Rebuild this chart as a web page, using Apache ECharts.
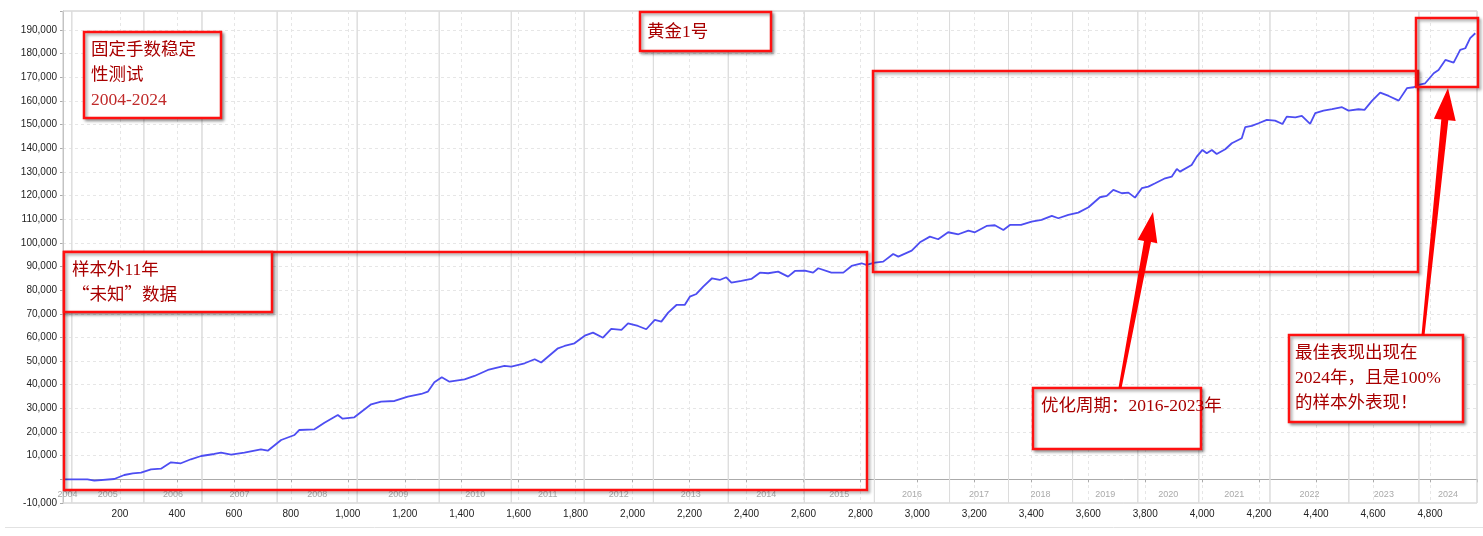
<!DOCTYPE html>
<html><head><meta charset="utf-8">
<script src="https://cdn.jsdelivr.net/npm/echarts@6/dist/echarts.min.js"></script>
<style>html,body{margin:0;padding:0;background:#fff}#c{width:1483px;height:536px}</style>
</head><body><div id="c"></div>
<script>
// bar index (x) and equity value (y)
const bars = [2,86,110,180,215,245,274,309,344,379,414,449,485,531,555,590,637,695,719,766,813,830,883,918,965,982,1023,1082,1117,1164,1211,1258,1281,1304,1330,1357,1410,1445,1492,1550,1574,1621,1656,1679,1738,1761,1796,1832,1861,1896,1925,1961,1984,2019,2048,2078,2101,2125,2154,2183,2201,2224,2248,2279,2306,2329,2347,2382,2417,2447,2476,2511,2546,2570,2605,2634,2652,2698,2740,2769,2804,2821,2851,2880,2915,2933,2980,3009,3044,3073,3108,3144,3179,3202,3243,3272,3302,3325,3364,3401,3436,3472,3495,3530,3565,3601,3641,3665,3688,3718,3741,3764,3788,3811,3835,3870,3893,3911,3922,3963,3981,4001,4016,4034,4051,4081,4104,4139,4151,4174,4198,4227,4256,4282,4297,4327,4350,4379,4397,4426,4456,4491,4514,4549,4570,4596,4625,4655,4690,4719,4743,4760,4783,4813,4830,4854,4883,4906,4924,4941,4959];
const equity = [0,0,-570,150,1840,2560,2810,4250,4500,7200,6790,8480,9870,10720,11270,10420,11270,12700,12110,16640,18750,20870,21160,23950,27210,25650,26240,31730,32830,33130,34950,36090,37060,41040,43150,41290,42300,43700,46240,47930,47650,49070,50760,49400,55410,56380,57530,60740,62010,59890,63570,63150,65980,64840,63450,67380,66670,70470,73720,73720,77230,78370,81460,85010,84290,85430,83150,83870,84710,87380,87130,87800,85690,88100,88230,87380,89240,87380,87380,90210,91350,90630,91610,92030,95290,94150,96680,100230,102600,101500,104460,103610,105140,104460,107120,107420,105430,107550,107550,108940,109660,111350,110380,111780,112750,115030,119260,119810,122350,120950,121230,119110,123070,123740,125180,127290,127970,131230,130090,132920,136430,139260,137850,139260,137570,139560,142090,144210,148860,149410,150550,151950,151660,150250,153340,153060,153640,150250,154780,155880,156470,157320,155880,156470,156170,159980,163490,162090,160110,165350,165770,166740,167450,171690,173090,177320,176190,181540,182250,186490,188600];
const yearLabels = ['2004','2005','2006','2007','2008','2009','2010','2011','2012','2013','2014','2015','2016','2017','2018','2019','2020','2021','2022','2023','2024'];
const yearBounds = [0,31,284,488,752,1033,1321,1574,1830,2073,2336,2603,2849,3113,3320,3545,3774,3988,4238,4515,4761,4965];

const chart = echarts.init(document.getElementById('c'), null, {renderer: 'canvas'});
const seriesData = bars.map((b, i) => [b, equity[i]]);
const areas = yearLabels.map((y, i) => [{xAxis: yearBounds[i], name: y}, {xAxis: yearBounds[i + 1]}]);

const RED = '#ff1010';
const TXT = '#a80000';
const CJK = '"Liberation Serif","Noto Sans CJK SC"';
function frame(x, y, w, h, fill) {
  return {type: 'rect', z: 100, shape: {x: x, y: y, width: w, height: h},
    style: {fill: fill || 'none', stroke: RED, lineWidth: 2.5,
      shadowBlur: 3, shadowColor: 'rgba(0,0,0,0.35)', shadowOffsetX: 2, shadowOffsetY: 2}};
}
function txt(x, y, s, color, fam) {
  return {type: 'text', z: 110, x: x, y: y,
    style: {text: s, fill: color || TXT, font: '17.5px ' + (fam || CJK), verticalAlign: 'middle', align: 'left'}};
}
function poly(pts) {
  return {type: 'polygon', z: 105, shape: {points: pts}, style: {fill: '#ff0000'}};
}
const fmt = (step) => (v) => (v === 0 || v % step !== 0) ? '' : v.toLocaleString('en-US');

chart.setOption({
  animation: false,
  backgroundColor: '#fff',
  grid: {left: 63, right: 6, top: 11, bottom: 33, show: true, borderColor: '#cfcfcf', borderWidth: 1, backgroundColor: '#fff'},
  xAxis: {
    type: 'value', min: 0, max: 4965, interval: 200,
    axisLine: {show: true, lineStyle: {color: '#aaa'}},
    axisTick: {show: true, length: 3, lineStyle: {color: '#aaa'}},
    axisLabel: {formatter: fmt(200), color: '#222', fontSize: 10, fontFamily: 'Liberation Sans', margin: 6},
    splitLine: {show: true, lineStyle: {color: '#e6e6e6', type: [3, 3]}}
  },
  yAxis: {
    type: 'value', min: -10000, max: 198000, interval: 10000,
    axisLine: {show: true, lineStyle: {color: '#aaa'}},
    axisTick: {show: true, length: 3, lineStyle: {color: '#aaa'}},
    axisLabel: {formatter: fmt(10000), color: '#222', fontSize: 10, fontFamily: 'Liberation Sans', margin: 6},
    splitLine: {show: true, lineStyle: {color: '#e6e6e6', type: [3, 3]}}
  },
  series: [{
    type: 'line', data: seriesData, showSymbol: false, silent: true, z: 3,
    lineStyle: {color: '#4d4df2', width: 1.8},
    markArea: {
      silent: true,
      itemStyle: {color: 'rgba(0,0,0,0)', borderColor: '#dcdcdc', borderWidth: 1},
      label: {show: true, position: 'insideBottom', distance: 4, color: '#aaa', fontSize: 9, fontFamily: 'Liberation Sans'},
      data: areas
    }
  }],
  graphic: [
    {type: 'line', z: 1, shape: {x1: 5, y1: 527.5, x2: 1483, y2: 527.5}, style: {stroke: '#e2e2e2', lineWidth: 1}},
    // frames
    frame(64, 252, 803, 238),
    frame(873, 71, 545, 201),
    frame(1416, 18, 62, 69),
    // text boxes
    frame(84, 32, 137, 86, '#fff'),
    txt(91, 50, '固定手数稳定'),
    txt(91, 75, '性测试'),
    txt(91, 100, '2004-2024', '#c02a2a'),
    frame(640, 12, 131, 39, '#fff'),
    txt(647, 32, '黄金1号'),
    frame(64, 252, 208, 60, '#fff'),
    txt(72, 270, '样本外11年'),
    txt(72, 293, '“未知”数据', TXT, '"Noto Sans CJK SC"'),
    frame(1033, 388, 168, 61, '#fff'),
    txt(1041, 406, '优化周期：2016-2023年'),
    frame(1289, 335, 174, 87, '#fff'),
    txt(1295, 353, '最佳表现出现在'),
    txt(1295, 378, '2024年，且是100%'),
    txt(1295, 403, '的样本外表现！'),
    // arrows
    poly([[1118.5, 387.7], [1144, 240.9], [1137.7, 239.7], [1153, 212], [1157.3, 243.3], [1151, 242.1], [1121.5, 388.3]]),
    poly([[1421.5, 334.9], [1441.3, 119.4], [1433.9, 118.7], [1448, 88], [1455.7, 120.9], [1448.3, 120.2], [1424.5, 335.2]])
  ]
});
</script>
</body></html>
